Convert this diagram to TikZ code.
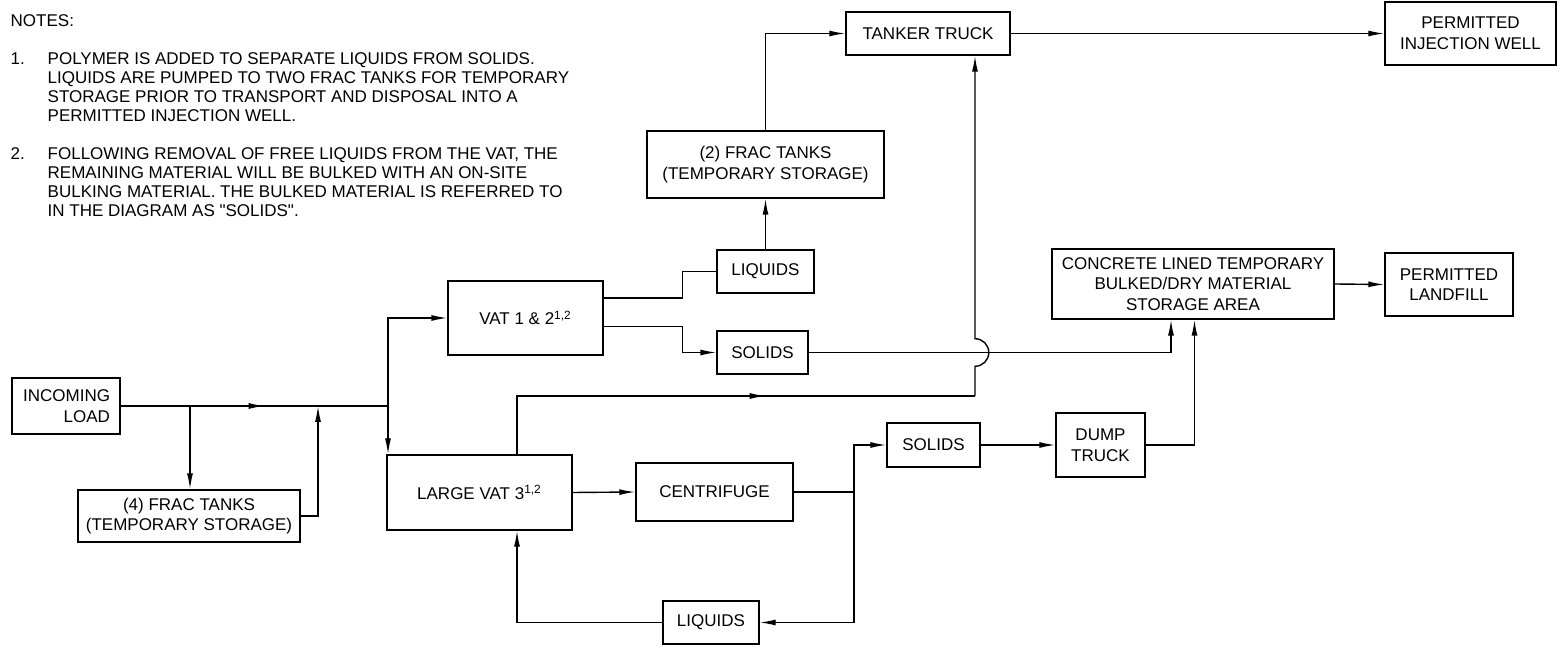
\documentclass[tikz,border=0pt]{standalone}
\usepackage{fontspec}
\setmainfont{Liberation Sans}[Ligatures=TeXOff]
\usetikzlibrary{arrows.meta,decorations.markings,calc}
\begin{document}
\begin{tikzpicture}[x=0.5pt,y=-0.5pt,
  font=\fontsize{8.5}{10.3}\selectfont,
  line width=0.7pt,
  box/.style={draw,rectangle,inner sep=0pt,align=center,line width=0.7pt},
  arr/.style={-{Latex[length=8pt,width=3pt]}},
  midarr/.style={postaction={decorate},decoration={markings,mark=at position #1 with {\arrow{Latex[length=8pt,width=3pt]}}}},
  notetext/.style={inner sep=0pt,align=left,font=\fontsize{8.5}{9.5}\selectfont}
]
\useasboundingbox (0,0) rectangle (1560,646);

% notes
\node[anchor=west,inner sep=0pt] (notes) at (10,21) {NOTES:};
\node[anchor=north west,inner sep=0pt] (n1) at (10,52) {1.};
\node[anchor=north west,notetext] (t1) at (47,52) {POLYMER IS ADDED TO SEPARATE LIQUIDS FROM SOLIDS.\\LIQUIDS ARE PUMPED TO TWO FRAC TANKS FOR TEMPORARY\\STORAGE PRIOR TO TRANSPORT AND DISPOSAL INTO A\\PERMITTED INJECTION WELL.};
\node[anchor=north west,inner sep=0pt] (n2) at (10,147) {2.};
\node[anchor=north west,notetext] (t2) at (47,147) {FOLLOWING REMOVAL OF FREE LIQUIDS FROM THE VAT, THE\\REMAINING MATERIAL WILL BE BULKED WITH AN ON-SITE\\BULKING MATERIAL. THE BULKED MATERIAL IS REFERRED TO\\IN THE DIAGRAM AS "SOLIDS".};

% boxes
\node[box,align=right,text width=44pt,inner xsep=5pt,minimum height=28pt] (load) at (66,406) {INCOMING\\LOAD};
\node[box,minimum width=111pt,minimum height=26pt] (frac4) at (189,516) {(4) FRAC TANKS\\(TEMPORARY STORAGE)};
\node[box,minimum width=77.5pt,minimum height=37pt] (vat12) at (525.5,318) {VAT 1 \& 2\textsuperscript{1,2}};
\node[box,minimum width=48.5pt,minimum height=21.5pt] (liq1) at (765.5,271.5) {LIQUIDS};
\node[box,minimum width=45.5pt,minimum height=21.5pt] (sol1) at (762.5,352.5) {SOLIDS};
\node[box,minimum width=118.5pt,minimum height=33.5pt] (frac2) at (765.5,164.5) {(2) FRAC TANKS\\(TEMPORARY STORAGE)};
\node[box,minimum width=82pt,minimum height=21.5pt] (tanker) at (928,33.5) {TANKER TRUCK};
\node[box,minimum width=85.5pt,minimum height=31.5pt] (piw) at (1470.5,33.5) {PERMITTED\\INJECTION WELL};
\node[box,minimum width=141pt,minimum height=35pt] (conc) at (1193,284) {CONCRETE LINED TEMPORARY\\BULKED/DRY MATERIAL\\STORAGE AREA};
\node[box,minimum width=64pt,minimum height=31.5pt] (land) at (1449,284.5) {PERMITTED\\LANDFILL};
\node[box,minimum width=92.5pt,minimum height=37.5pt] (lvat) at (479.5,492.5) {LARGE VAT 3\textsuperscript{1,2}};
\node[box,minimum width=78.5pt,minimum height=29pt] (centri) at (714.5,492) {CENTRIFUGE};
\node[box,minimum width=46.5pt,minimum height=22pt] (sol2) at (933.5,445) {SOLIDS};
\node[box,minimum width=44.5pt,minimum height=32pt] (dump) at (1100.5,445) {DUMP\\TRUCK};
\node[box,minimum width=48pt,minimum height=21.5pt] (liq2) at (711,622.5) {LIQUIDS};

% junctions
\coordinate (jA) at (190,406);
\coordinate (jB) at (318,406);
\coordinate (jC) at (388,406);
\coordinate (bx) at (682.5,300);
\coordinate (v1) at ([yshift=10pt]vat12.east);
\coordinate (v2) at ([yshift=-4.3pt]vat12.east);
\coordinate (cin1) at ([xshift=-11pt]conc.south);
\coordinate (cin2) at ([xshift=0.75pt]conc.south);
\coordinate (jD) at (854,492);
\coordinate (lvb) at ([xshift=18.75pt]lvat.south);
\coordinate (lvt) at ([xshift=18.75pt]lvat.north);
\coordinate (tk) at ([xshift=23.5pt]tanker.south);
\coordinate (hb) at (tk |- 0,396);
\coordinate (hc) at (tk |- sol1.east);

% connectors
\draw[midarr=72pt] (load.east) -- (jC);
\draw[arr] (jA) -- (jA |- frac4.north);
\draw[arr] (frac4.east) -| (jB);
\draw[arr] (jC) |- (vat12.west);
\draw[arr] (jC) -- (jC |- lvat.north);
\draw (v1) -- (v1 -| bx) |- (liq1.west);
\draw[arr] (v2) -- (v2 -| bx) |- (sol1.west);
\draw[arr] (liq1.north) -- (frac2.south);
\draw[arr] (frac2.north) |- (tanker.west);
\draw[arr] (tanker.east) -- (piw.west);
\draw[arr] (sol1.east) -| (cin1);
\draw[arr] (conc.east) -- (land.west);
\draw[arr] (sol2.east) -- (dump.west);
\draw[arr] (dump.east) -| (cin2);
\draw[arr] (lvat.east) -- (centri.west);
\draw (centri.east) -- (jD);
\draw[arr] (jD) |- (sol2.west);
\draw[arr] (jD) |- (liq2.east);
\draw[arr] (liq2.west) -| (lvb);
\draw[midarr=153.5pt] (lvt) |- (hb);
\draw[arr] (hb) -- ([yshift=-6.9pt]hc) arc[start angle=-90,end angle=90,radius=6.9pt] -- (tk);
\end{tikzpicture}
\end{document}
